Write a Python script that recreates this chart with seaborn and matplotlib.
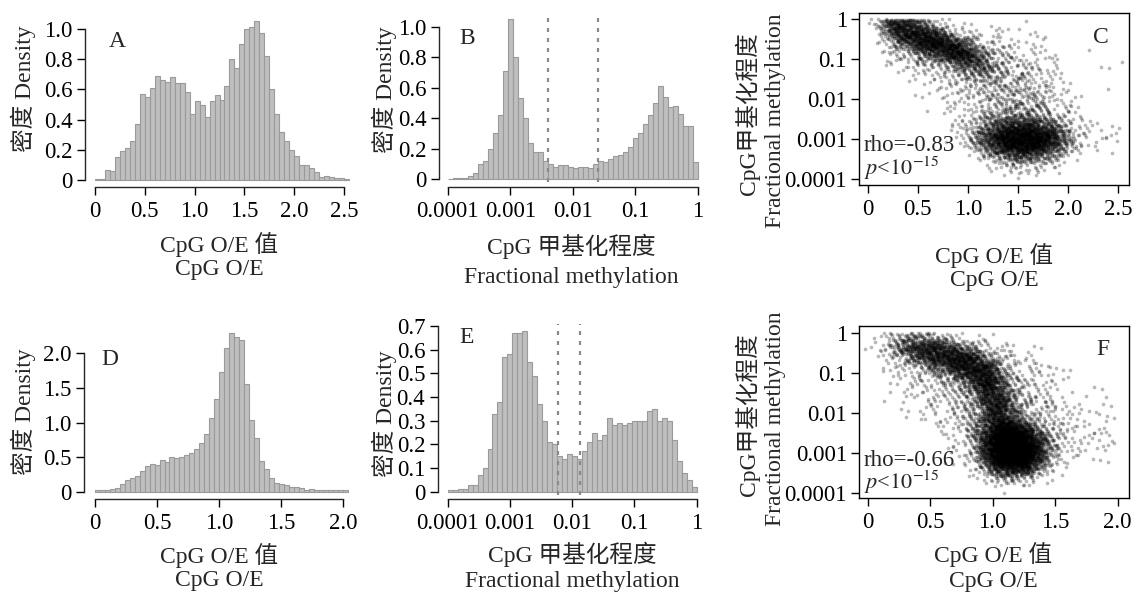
import numpy as np
import pandas as pd
import matplotlib
matplotlib.use("Agg")
import matplotlib.pyplot as plt
import seaborn as sns

# ---- histogram heights (density) ----
# A: CpG O/E, bins of 0.05 starting at 0
A_BIN0, A_BINW = 0.0, 0.05
A_HEIGHTS = [0.005, 0.01, 0.065, 0.06, 0.15, 0.19, 0.21, 0.26, 0.37, 0.57,
             0.55, 0.61, 0.69, 0.66, 0.65, 0.68, 0.64, 0.64, 0.58, 0.44,
             0.52, 0.50, 0.42, 0.52, 0.56, 0.53, 0.62, 0.80, 0.74, 0.90,
             1.00, 1.01, 1.05, 0.97, 0.82, 0.60, 0.44, 0.32, 0.26, 0.20,
             0.16, 0.10, 0.10, 0.08, 0.05, 0.02, 0.03, 0.02, 0.015, 0.015, 0.01]

# B: fractional methylation, bins of 0.08 decade starting at 1e-4
B_BIN0, B_BINW = -4.0, 0.08
B_HEIGHTS = [0.003, 0.005, 0.005, 0.01, 0.02, 0.04, 0.10, 0.12, 0.20, 0.30,
             0.42, 0.71, 1.05, 0.80, 0.53, 0.40, 0.24, 0.18, 0.18, 0.12,
             0.10, 0.08, 0.09, 0.09, 0.08, 0.07, 0.08, 0.08, 0.07, 0.10,
             0.12, 0.11, 0.13, 0.15, 0.16, 0.18, 0.21, 0.27, 0.30, 0.36,
             0.42, 0.50, 0.61, 0.54, 0.47, 0.48, 0.43, 0.35, 0.35, 0.11]
B_CUTOFFS = [0.004, 0.025]

# D: CpG O/E, bins of 0.04 starting at 0
D_BIN0, D_BINW = 0.0, 0.04
D_HEIGHTS = [0.03, 0.04, 0.04, 0.05, 0.06, 0.12, 0.17, 0.20, 0.23, 0.31,
             0.37, 0.41, 0.39, 0.46, 0.43, 0.50, 0.49, 0.50, 0.53, 0.57,
             0.62, 0.71, 0.84, 1.07, 1.34, 1.73, 2.07, 2.28, 2.22, 2.18,
             1.55, 1.04, 0.78, 0.45, 0.33, 0.20, 0.14, 0.12, 0.11, 0.08,
             0.07, 0.06, 0.04, 0.05, 0.04, 0.04, 0.03, 0.03, 0.03, 0.03, 0.03]

# E: fractional methylation, bins of 0.08 decade starting at 1e-4
E_BIN0, E_BINW = -4.0, 0.08
E_HEIGHTS = [0.005, 0.005, 0.01, 0.01, 0.03, 0.03, 0.07, 0.10, 0.18, 0.33,
             0.38, 0.57, 0.58, 0.67, 0.67, 0.68, 0.55, 0.49, 0.37, 0.30,
             0.21, 0.20, 0.15, 0.14, 0.16, 0.15, 0.14, 0.17, 0.21, 0.25,
             0.22, 0.24, 0.31, 0.28, 0.29, 0.28, 0.29, 0.30, 0.30, 0.30,
             0.34, 0.35, 0.30, 0.31, 0.30, 0.22, 0.13, 0.08, 0.05, 0.02]
E_CUTOFFS = [0.006, 0.0135]

# ---- scatter: approximate point counts per cell, estimated from the figure ----
# rows go down from methylation 1 in steps of 0.25 decade, columns go right from O/E 0
C_DX, C_DY = 0.125, 0.25
C_COUNTS = [
    [4, 50, 90, 70, 30, 8, 3, 2, 1, 1, 1, 0, 1, 1, 0, 0, 0, 0, 0, 0],
    [1, 20, 80, 120, 110, 70, 30, 10, 5, 3, 3, 2, 2, 1, 1, 0, 0, 0, 0, 0],
    [0, 6, 25, 60, 110, 130, 110, 60, 20, 8, 6, 4, 3, 2, 1, 0, 0, 0, 0, 0],
    [0, 3, 8, 15, 30, 60, 100, 110, 70, 25, 12, 8, 6, 4, 2, 1, 0, 0, 1, 1],
    [0, 2, 4, 5, 8, 12, 25, 45, 55, 35, 15, 10, 8, 6, 3, 2, 0, 0, 1, 1],
    [0, 0, 2, 3, 4, 6, 8, 15, 25, 25, 15, 12, 10, 7, 4, 2, 0, 0, 0, 0],
    [0, 0, 0, 1, 2, 3, 5, 7, 12, 15, 15, 14, 12, 9, 5, 3, 1, 0, 0, 0],
    [0, 0, 0, 0, 2, 2, 4, 5, 8, 12, 14, 16, 15, 12, 8, 4, 2, 0, 0, 1],
    [0, 0, 0, 0, 0, 2, 3, 4, 6, 10, 14, 16, 18, 16, 10, 5, 2, 0, 0, 0],
    [0, 0, 0, 0, 0, 1, 3, 4, 8, 14, 20, 25, 25, 22, 14, 7, 3, 1, 0, 0],
    [0, 0, 0, 0, 0, 0, 2, 5, 12, 30, 55, 70, 75, 65, 45, 20, 6, 3, 2, 2],
    [0, 0, 0, 0, 0, 0, 2, 5, 20, 60, 110, 140, 150, 140, 100, 45, 12, 4, 3, 3],
    [0, 0, 0, 0, 0, 0, 0, 4, 15, 50, 100, 140, 150, 140, 95, 40, 10, 3, 2, 2],
    [0, 0, 0, 0, 0, 0, 0, 0, 5, 15, 35, 55, 60, 55, 35, 12, 3, 0, 0, 0],
    [0, 0, 0, 0, 0, 0, 0, 0, 0, 3, 6, 10, 12, 10, 5, 2, 0, 0, 0, 0],
    [0, 0, 0, 0, 0, 0, 0, 0, 0, 0, 1, 2, 2, 2, 1, 0, 0, 0, 0, 0],
]
C_RHO = "rho=-0.83"

F_DX, F_DY = 0.1, 0.25
F_COUNTS = [
    [1, 6, 20, 30, 25, 15, 8, 4, 2, 1, 0, 1, 0, 0, 0, 0, 0, 0, 0, 0],
    [2, 10, 35, 70, 90, 90, 70, 40, 20, 8, 4, 2, 2, 1, 0, 0, 0, 0, 0, 0],
    [0, 5, 12, 30, 60, 90, 110, 110, 80, 35, 12, 5, 3, 2, 1, 0, 0, 0, 0, 0],
    [0, 2, 5, 10, 15, 30, 60, 100, 120, 90, 30, 10, 6, 4, 3, 1, 0, 0, 0, 0],
    [0, 2, 3, 5, 8, 12, 20, 40, 80, 110, 50, 15, 8, 5, 4, 2, 1, 0, 0, 0],
    [0, 0, 2, 3, 5, 7, 10, 18, 45, 100, 70, 20, 10, 6, 4, 2, 0, 1, 1, 0],
    [0, 1, 1, 2, 4, 5, 8, 12, 25, 80, 80, 30, 12, 8, 5, 3, 2, 1, 1, 0],
    [0, 0, 1, 2, 3, 4, 6, 10, 20, 60, 90, 40, 15, 10, 7, 4, 3, 2, 2, 1],
    [0, 0, 0, 1, 2, 3, 5, 8, 20, 60, 100, 60, 20, 12, 8, 5, 3, 2, 2, 1],
    [0, 0, 0, 0, 1, 2, 3, 8, 20, 60, 140, 150, 90, 30, 12, 8, 4, 3, 2, 2],
    [0, 0, 0, 0, 0, 1, 2, 5, 20, 90, 210, 240, 190, 70, 20, 8, 4, 3, 3, 2],
    [0, 0, 0, 0, 0, 0, 2, 4, 15, 90, 230, 270, 240, 110, 25, 10, 4, 3, 3, 2],
    [0, 0, 0, 0, 0, 0, 1, 3, 10, 70, 200, 250, 220, 100, 20, 6, 2, 1, 1, 1],
    [0, 0, 0, 0, 0, 0, 0, 1, 4, 25, 90, 120, 100, 40, 8, 2, 0, 0, 0, 0],
    [0, 0, 0, 0, 0, 0, 0, 0, 1, 5, 15, 20, 15, 6, 1, 0, 0, 0, 0, 0],
    [0, 0, 0, 0, 0, 0, 0, 0, 0, 0, 1, 1, 1, 0, 0, 0, 0, 0, 0, 0],
]
F_RHO = "rho=-0.66"

OE_TICKS_25 = [0, 0.5, 1.0, 1.5, 2.0, 2.5]
OE_LABELS_25 = ["0", "0.5", "1.0", "1.5", "2.0", "2.5"]
OE_TICKS_20 = [0, 0.5, 1.0, 1.5, 2.0]
OE_LABELS_20 = ["0", "0.5", "1.0", "1.5", "2.0"]
METH_TICKS = [-4, -3, -2, -1, 0]
METH_LABELS = ["0.0001", "0.001", "0.01", "0.1", "1"]

W, H = 1138, 594
BAR_FILL = "#bfbfbf"
BAR_EDGE = "#9a9a9a"
TICK_FS = 16.5
LABEL_FS = 17

sns.set_style("ticks")
plt.rcParams["font.family"] = ["Liberation Serif", "Noto Sans CJK SC"]
plt.rcParams["mathtext.fontset"] = "stix"
plt.rcParams["axes.linewidth"] = 1.0


def px_axes(fig, left, top, right, bottom):
    return fig.add_axes([left / W, 1 - bottom / H, (right - left) / W, (bottom - top) / H])


def ftext(fig, x, y, s, **kw):
    fig.text(x / W, 1 - y / H, s, **kw)


def hist_panel(ax, bin0, binw, heights):
    heights = np.asarray(heights, dtype=float)
    edges = bin0 + binw * np.arange(len(heights) + 1)
    df = pd.DataFrame({"x": (edges[:-1] + edges[1:]) / 2, "w": heights})
    sns.histplot(data=df, x="x", weights="w", bins=list(edges), stat="count",
                 color=BAR_FILL, edgecolor=BAR_EDGE, linewidth=0.8,
                 alpha=1, ax=ax)
    ax.set_xlabel("")
    ax.set_ylabel("")
    sns.despine(ax=ax)


def grid_points(counts, dx, dy):
    # spread each cell's count over a tent of +-1 cell (quasi-random R4 sequence)
    g = 1.1673039782614187
    a = 1.0 / g ** np.arange(1, 5)
    xs, ys = [], []
    k = 0
    for r, row in enumerate(counts):
        for c, n in enumerate(row):
            if n == 0:
                continue
            idx = np.arange(k, k + n)[:, None]
            k += n
            u = (0.5 + idx * a) % 1.0
            xs.append((c + 0.5 + u[:, 0] + u[:, 1] - 1.0) * dx)
            ys.append(-(r + 0.5 + u[:, 2] + u[:, 3] - 1.0) * dy)
    x = np.concatenate(xs)
    y = np.concatenate(ys)
    y = np.where(y > 0, -y, y)
    return pd.DataFrame({"oe": x, "meth": y})


def scatter_panel(ax, counts, dx, dy):
    pts = grid_points(counts, dx, dy)
    sns.scatterplot(data=pts, x="oe", y="meth", color="black", alpha=0.28,
                    s=7, linewidth=0, legend=False, ax=ax)
    ax.set_xlabel("")
    ax.set_ylabel("")
    for sp in ax.spines.values():
        sp.set_visible(True)
        sp.set_color("black")


def style_ticks(ax):
    ax.tick_params(direction="out", length=6, width=1, colors="black",
                   labelsize=TICK_FS, pad=3)
    ax.tick_params(axis="x", pad=4)


fig = plt.figure(figsize=(W / 100, H / 100), dpi=100)

# ---------- A ----------
ax = px_axes(fig, 85, 14, 354, 187)
hist_panel(ax, A_BIN0, A_BINW, A_HEIGHTS)
ax.set_xlim(-0.1, 2.6)
ax.set_ylim(-0.046, 1.099)
ax.set_xticks(OE_TICKS_25, OE_LABELS_25)
ax.set_yticks([0, 0.2, 0.4, 0.6, 0.8, 1.0], ["0", "0.2", "0.4", "0.6", "0.8", "1.0"])
ax.spines["bottom"].set_bounds(0, 2.5)
ax.spines["left"].set_bounds(0, 1.0)
style_ticks(ax)

# ---------- B ----------
ax = px_axes(fig, 439, 12.7, 707.7, 186.7)
hist_panel(ax, B_BIN0, B_BINW, B_HEIGHTS)
ax.set_xlim(-4.139, 0.16)
ax.set_ylim(-0.05, 1.092)
for c in B_CUTOFFS:
    ax.vlines(np.log10(c), -0.02, 1.092, colors="#8a8a8a", linewidth=1.6,
              linestyles=(0, (1.8, 2.7)))
ax.set_xticks(METH_TICKS, METH_LABELS)
ax.set_yticks([0, 0.2, 0.4, 0.6, 0.8, 1.0], ["0", "0.2", "0.4", "0.6", "0.8", "1.0"])
ax.spines["bottom"].set_bounds(-4, 0)
ax.spines["left"].set_bounds(0, 1.0)
style_ticks(ax)

# ---------- C ----------
ax = px_axes(fig, 859.3, 12.7, 1129, 185)
scatter_panel(ax, C_COUNTS, C_DX, C_DY)
ax.set_xlim(-0.084, 2.607)
ax.set_ylim(-4.14, 0.165)
ax.set_xticks(OE_TICKS_25, OE_LABELS_25)
ax.set_yticks(METH_TICKS, METH_LABELS)
style_ticks(ax)

# ---------- D ----------
ax = px_axes(fig, 84.3, 325, 353.3, 499)
hist_panel(ax, D_BIN0, D_BINW, D_HEIGHTS)
ax.set_xlim(-0.086, 2.08)
ax.set_ylim(-0.096, 2.397)
ax.set_xticks(OE_TICKS_20, OE_LABELS_20)
ax.set_yticks([0, 0.5, 1.0, 1.5, 2.0], ["0", "0.5", "1.0", "1.5", "2.0"])
ax.spines["bottom"].set_bounds(0, 2.0)
ax.spines["left"].set_bounds(0, 2.0)
style_ticks(ax)

# ---------- E ----------
ax = px_axes(fig, 437.7, 324.4, 706.7, 499)
hist_panel(ax, E_BIN0, E_BINW, E_HEIGHTS)
ax.set_xlim(-4.16, 0.16)
ax.set_ylim(-0.031, 0.707)
for c in E_CUTOFFS:
    ax.vlines(np.log10(c), -0.012, 0.707, colors="#8a8a8a", linewidth=1.6,
              linestyles=(0, (1.8, 2.7)))
ax.set_xticks(METH_TICKS, METH_LABELS)
ax.set_yticks([0, 0.1, 0.2, 0.3, 0.4, 0.5, 0.6, 0.7],
              ["0", "0.1", "0.2", "0.3", "0.4", "0.5", "0.6", "0.7"])
ax.spines["bottom"].set_bounds(-4, 0)
ax.spines["left"].set_bounds(0, 0.7)
style_ticks(ax)

# ---------- F ----------
ax = px_axes(fig, 859.3, 326, 1129, 498.3)
scatter_panel(ax, F_COUNTS, F_DX, F_DY)
ax.set_xlim(-0.067, 2.09)
ax.set_ylim(-4.14, 0.17)
ax.set_xticks(OE_TICKS_20, OE_LABELS_20)
ax.set_yticks(METH_TICKS, METH_LABELS)
style_ticks(ax)

# ---------- texts ----------
oe1, oe2 = "CpG O/E 值", "CpG O/E"
me1, me2 = "CpG 甲基化程度", "Fractional methylation"
dens = "密度 Density"
yl1, yl2 = "CpG甲基化程度", "Fractional methylation"

for x, y1, y2, s1, s2 in [(219.5, 251.7, 274.5, oe1, oe2),
                          (571, 254, 282.7, me1, me2),
                          (994, 263, 286.5, oe1, oe2),
                          (219, 563, 586, oe1, oe2),
                          (572, 561.7, 587.3, me1, me2),
                          (993, 561.7, 587.3, oe1, oe2)]:
    ftext(fig, x, y1, s1, ha="center", va="baseline", fontsize=LABEL_FS)
    ftext(fig, x, y2, s2, ha="center", va="baseline", fontsize=LABEL_FS)

for x, y in [(23, 88.5), (384, 90), (23, 412), (384, 414)]:
    ftext(fig, x, y, dens, ha="center", va="center", rotation=90, fontsize=LABEL_FS)

for yc1, yc2 in [(114, 121), (415, 419)]:
    ftext(fig, 747, yc1, yl1, ha="center", va="center", rotation=90, fontsize=LABEL_FS)
    ftext(fig, 776, yc2, yl2, ha="center", va="center", rotation=90, fontsize=LABEL_FS)

for x, y, s in [(117, 46.7, "A"), (467, 44.3, "B"), (1100.7, 43.3, "C"),
                (110, 365, "D"), (467, 343.3, "E"), (1102.7, 355, "F")]:
    ftext(fig, x, y, s, ha="center", va="baseline", fontsize=17)

for y1, y2, rho in [(151, 175, C_RHO), (465.5, 489.5, F_RHO)]:
    ftext(fig, 863.5, y1, rho, ha="left", va="baseline", fontsize=16.5)
    ftext(fig, 863.5, y2, r"$p$<$10^{-15}$", ha="left", va="baseline", fontsize=16)

fig.savefig("out.png", dpi=100)
